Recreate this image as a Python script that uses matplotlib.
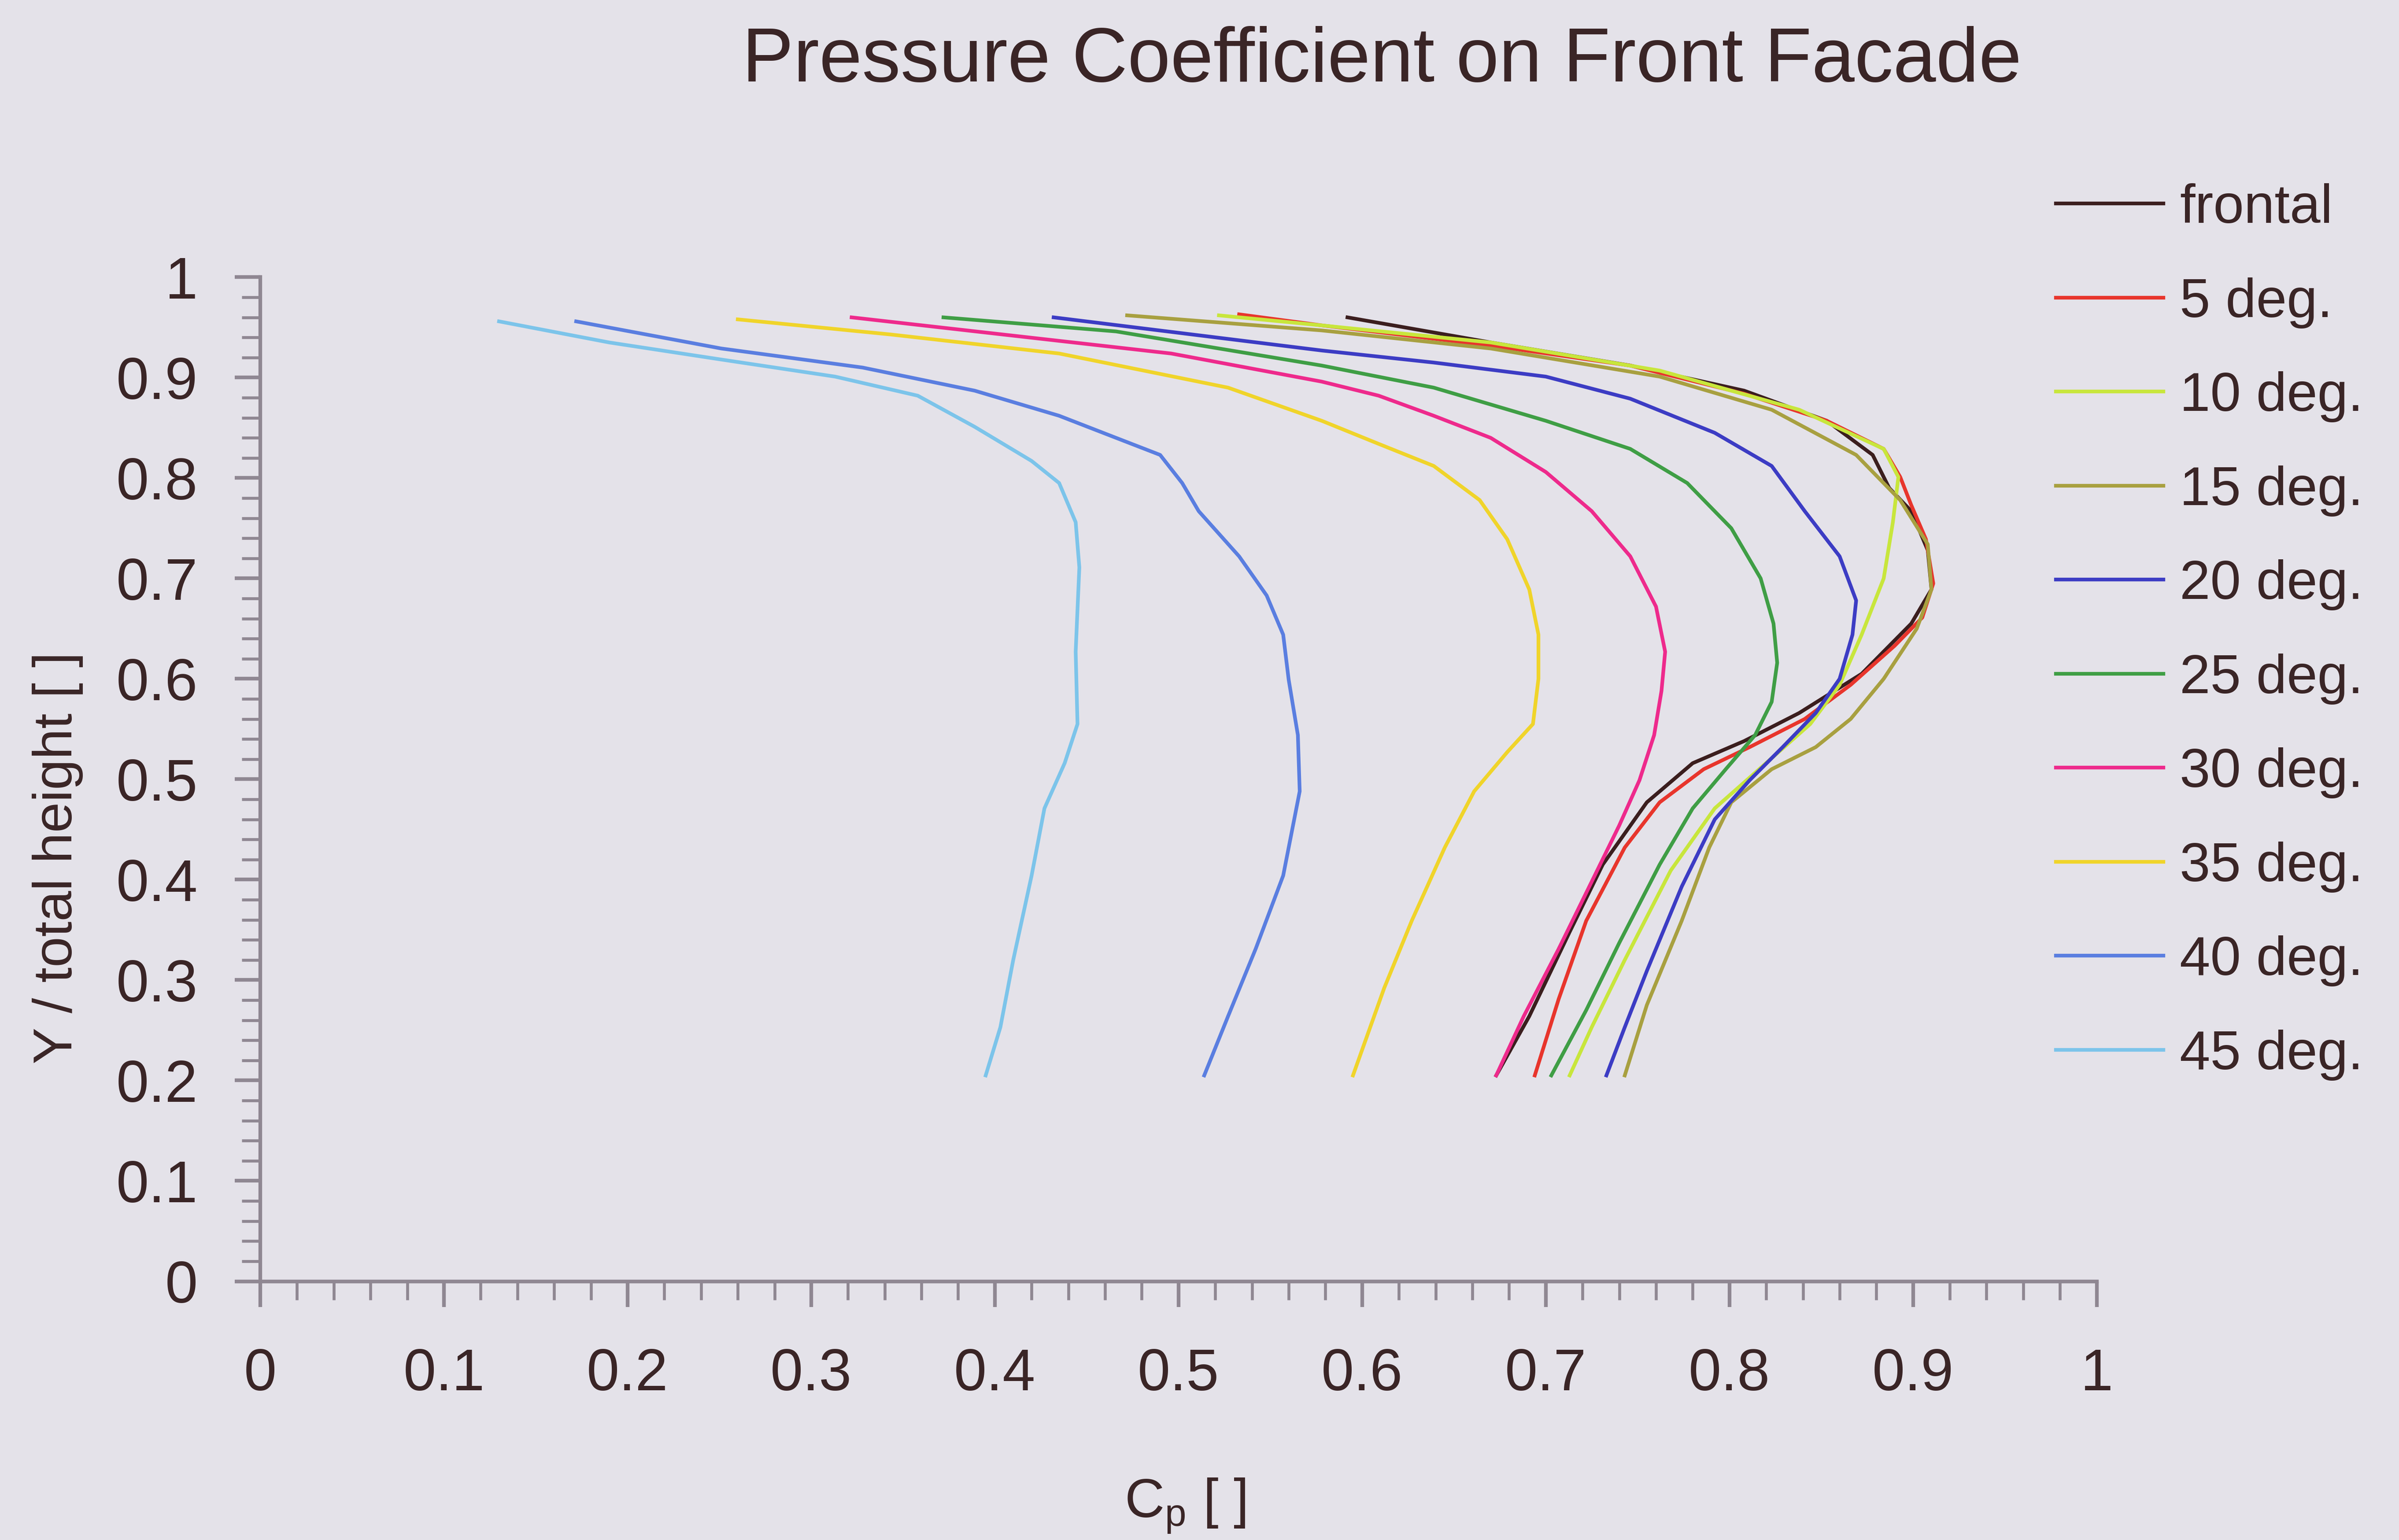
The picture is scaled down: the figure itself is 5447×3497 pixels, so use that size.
import numpy as np
from matplotlib import pyplot as plt
from matplotlib.ticker import MultipleLocator

# Cp vs Y/H for each wind angle (top -> bottom)
labels = ["frontal", "5 deg.", "10 deg.", "15 deg.", "20 deg.", "25 deg.",
          "30 deg.", "35 deg.", "40 deg.", "45 deg."]
colors = ["#3b1e1e", "#e8352c", "#c8e63c", "#a8a040", "#3c3cc4", "#3f9e45",
          "#ee2a8c", "#f0d42a", "#5a7ee0", "#7cc4ea"]

cp_frontal = [0.592, 0.670, 0.746, 0.808, 0.853, 0.878, 0.887, 0.899, 0.908, 0.910, 0.899,
              0.872, 0.838, 0.808, 0.780, 0.755, 0.731, 0.713, 0.691, 0.673]
y_frontal = [0.960, 0.935, 0.912, 0.887, 0.857, 0.823, 0.790, 0.767, 0.728, 0.689, 0.655,
             0.605, 0.566, 0.538, 0.516, 0.477, 0.415, 0.348, 0.264, 0.205]

cp_5 = [0.533, 0.578, 0.670, 0.746, 0.808, 0.853, 0.884, 0.893, 0.899, 0.907, 0.911, 0.905,
        0.890, 0.866, 0.841, 0.811, 0.786, 0.762, 0.743, 0.722, 0.707, 0.694]
y_5 = [0.963, 0.952, 0.932, 0.912, 0.884, 0.857, 0.829, 0.801, 0.773, 0.739, 0.695, 0.661,
       0.633, 0.594, 0.560, 0.532, 0.510, 0.477, 0.432, 0.359, 0.281, 0.205]

cp_10 = [0.522, 0.578, 0.670, 0.762, 0.838, 0.884, 0.892, 0.889, 0.884, 0.872, 0.860, 0.844,
         0.823, 0.792, 0.768, 0.743, 0.725, 0.713]
y_10 = [0.962, 0.952, 0.935, 0.907, 0.868, 0.829, 0.801, 0.756, 0.700, 0.644, 0.594, 0.555,
        0.521, 0.471, 0.409, 0.320, 0.253, 0.205]

cp_15 = [0.472, 0.578, 0.670, 0.762, 0.823, 0.869, 0.893, 0.908, 0.910, 0.902, 0.884, 0.866,
         0.847, 0.823, 0.801, 0.789, 0.774, 0.755, 0.743]
y_15 = [0.962, 0.947, 0.929, 0.901, 0.868, 0.823, 0.778, 0.734, 0.689, 0.650, 0.600, 0.560,
        0.532, 0.510, 0.477, 0.432, 0.359, 0.275, 0.205]

cp_20 = [0.432, 0.578, 0.639, 0.700, 0.746, 0.792, 0.823, 0.841, 0.860, 0.869, 0.867, 0.860,
         0.847, 0.829, 0.811, 0.792, 0.774, 0.755, 0.743, 0.733]
y_20 = [0.960, 0.927, 0.915, 0.901, 0.879, 0.845, 0.812, 0.767, 0.722, 0.678, 0.644, 0.600,
        0.566, 0.532, 0.499, 0.460, 0.393, 0.309, 0.253, 0.205]

cp_25 = [0.372, 0.466, 0.578, 0.639, 0.700, 0.746, 0.777, 0.801, 0.817, 0.824, 0.826, 0.823,
         0.814, 0.798, 0.780, 0.762, 0.740, 0.722, 0.703]
y_25 = [0.960, 0.946, 0.912, 0.890, 0.857, 0.829, 0.795, 0.750, 0.700, 0.655, 0.616, 0.577,
        0.544, 0.510, 0.471, 0.415, 0.337, 0.270, 0.205]

cp_30 = [0.322, 0.404, 0.496, 0.578, 0.609, 0.639, 0.670, 0.700, 0.725, 0.746, 0.760, 0.765,
         0.763, 0.759, 0.751, 0.740, 0.725, 0.707, 0.688, 0.673]
y_30 = [0.960, 0.943, 0.924, 0.896, 0.882, 0.862, 0.840, 0.806, 0.767, 0.722, 0.672, 0.627,
        0.588, 0.544, 0.499, 0.454, 0.398, 0.331, 0.264, 0.205]

cp_35 = [0.260, 0.343, 0.435, 0.527, 0.578, 0.609, 0.639, 0.664, 0.679, 0.691, 0.696, 0.696,
         0.693, 0.679, 0.661, 0.645, 0.627, 0.612, 0.595]
y_35 = [0.958, 0.943, 0.924, 0.890, 0.857, 0.834, 0.812, 0.778, 0.739, 0.689, 0.644, 0.600,
        0.555, 0.527, 0.488, 0.432, 0.359, 0.292, 0.205]

cp_40 = [0.172, 0.251, 0.328, 0.389, 0.435, 0.466, 0.490, 0.502, 0.511, 0.533, 0.548, 0.557,
         0.560, 0.565, 0.566, 0.557, 0.542, 0.527, 0.514]
y_40 = [0.956, 0.929, 0.910, 0.887, 0.862, 0.840, 0.823, 0.795, 0.767, 0.722, 0.683, 0.644,
        0.599, 0.544, 0.488, 0.404, 0.331, 0.264, 0.205]

cp_45 = [0.130, 0.190, 0.251, 0.313, 0.358, 0.389, 0.420, 0.435, 0.444, 0.446, 0.444, 0.445,
         0.438, 0.427, 0.420, 0.410, 0.403, 0.395]
y_45 = [0.956, 0.935, 0.918, 0.901, 0.882, 0.851, 0.817, 0.795, 0.756, 0.711, 0.627, 0.555,
        0.516, 0.471, 0.404, 0.320, 0.253, 0.205]

cps = [cp_frontal, cp_5, cp_10, cp_15, cp_20, cp_25, cp_30, cp_35, cp_40, cp_45]
ys = [y_frontal, y_5, y_10, y_15, y_20, y_25, y_30, y_35, y_40, y_45]

bg = "#e4e2e9"
txt = "#3a2526"
axc = "#8f8792"

plt.rcParams['font.family'] = ['Liberation Sans', 'DejaVu Sans']

fig = plt.figure(figsize=(5447/300., 3497/300.), dpi=300, facecolor=bg)
ax = fig.add_axes([0.1085, 0.168, 0.7655, 0.652])
ax.set_facecolor(bg)

for cp, y, c, lab in zip(cps, ys, colors, labels):
    ax.plot(cp, y, color=c, lw=2.0, label=lab, solid_joinstyle="round")

ax.set_xlim(0, 1); ax.set_ylim(0, 1)
ax.xaxis.set_major_locator(MultipleLocator(0.1))
ax.yaxis.set_major_locator(MultipleLocator(0.1))
ax.xaxis.set_minor_locator(MultipleLocator(0.02))
ax.yaxis.set_minor_locator(MultipleLocator(0.02))
ax.xaxis.set_major_formatter(lambda v, p: "%g" % round(v, 1))
ax.yaxis.set_major_formatter(lambda v, p: "%g" % round(v, 1))

for s in ["top", "right"]:
    ax.spines[s].set_visible(False)
for s in ["left", "bottom"]:
    ax.spines[s].set_color(axc)
    ax.spines[s].set_linewidth(2)

ax.tick_params(which="major", direction="out", length=14, width=2, color=axc,
               labelsize=32, labelcolor=txt)
ax.tick_params(which="minor", direction="out", length=10, width=1.6, color=axc)
ax.tick_params(axis="x", which="major", pad=22)
ax.tick_params(axis="y", which="major", pad=20)

fig.text(0.576, 0.960, "Pressure Coefficient on Front Facade", ha="center", va="center",
         fontsize=42, color=txt)
fig.text(0.494, 0.022, "C$_\\mathregular{p}$ [ ]", ha="center", va="center", fontsize=30, color=txt)
fig.text(0.024, 0.443, "Y / total height [ ]", ha="center", va="center", rotation=90,
         fontsize=30, color=txt)

fig.legend(loc="upper left", bbox_to_anchor=(0.857, 0.881), frameon=False, fontsize=30,
           labelcolor=txt, handlelength=1.95, handletextpad=0.3, labelspacing=0.78,
           borderpad=0, borderaxespad=0)

fig.savefig("out.png", dpi=300, facecolor=bg)
